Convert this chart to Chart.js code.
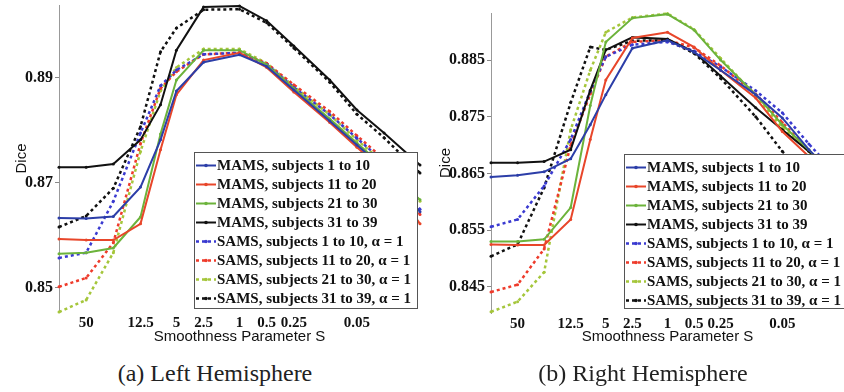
<!DOCTYPE html>
<html>
<head>
<meta charset="utf-8">
<script src="https://cdn.jsdelivr.net/npm/chart.js@4.4.1/dist/chart.umd.min.js"></script>
<style>
  html, body { margin: 0; padding: 0; background: #fff; overflow: hidden; width: 844px; height: 392px; }
  canvas { position: absolute; top: 0; }
  #left { left: 0; }
  #right { left: 422px; }
  .cap { position: absolute; top: 359px; font-family: "Liberation Serif", serif; font-size: 24px; line-height: 28px; color: #222; text-align: center; }
</style>
</head>
<body>
<canvas id="left" width="424" height="350"></canvas>
<canvas id="right" width="426" height="350"></canvas>
<div class="cap" style="left:0;width:430px">(a) Left Hemisphere</div>
<div class="cap" style="left:433px;width:420px">(b) Right Hemisphere</div>
<script>
// smoothness parameter values (x), shown on a reversed log axis
const sValues = [100, 50, 25, 12.5, 7.5, 5, 2.5, 1, 0.5, 0.25, 0.1, 0.05, 0.025, 0.01];
const xTickValues = [50, 12.5, 5, 2.5, 1, 0.5, 0.25, 0.05];

const seriesNames = [
  'MAMS, subjects 1 to 10',
  'MAMS, subjects 11 to 20',
  'MAMS, subjects 21 to 30',
  'MAMS, subjects 31 to 39',
  'SAMS, subjects 1 to 10, \u03b1 = 1',
  'SAMS, subjects 11 to 20, \u03b1 = 1',
  'SAMS, subjects 21 to 30, \u03b1 = 1',
  'SAMS, subjects 31 to 39, \u03b1 = 1'
];

// (a) left hemisphere
const leftMams1 = [0.8633, 0.8632, 0.8636, 0.8692, 0.8782, 0.8875, 0.8930, 0.8944, 0.8922, 0.8877, 0.8818, 0.8772, 0.8727, 0.8645];
const leftMams11 = [0.8593, 0.8591, 0.8591, 0.8622, 0.8763, 0.8868, 0.8934, 0.8948, 0.8920, 0.8873, 0.8815, 0.8768, 0.8722, 0.8622];
const leftMams21 = [0.8565, 0.8567, 0.8576, 0.8635, 0.8793, 0.8896, 0.8953, 0.8953, 0.8925, 0.8880, 0.8822, 0.8776, 0.8731, 0.8668];
const leftMams31 = [0.8730, 0.8730, 0.8736, 0.8782, 0.8849, 0.8953, 0.9035, 0.9037, 0.9009, 0.8961, 0.8896, 0.8839, 0.8795, 0.8734];
const leftSams1 = [0.8557, 0.8567, 0.8665, 0.8795, 0.8885, 0.8915, 0.8945, 0.8948, 0.8926, 0.8882, 0.8830, 0.8785, 0.8740, 0.8650];
const leftSams11 = [0.8502, 0.8519, 0.8586, 0.8775, 0.8880, 0.8912, 0.8945, 0.8948, 0.8928, 0.8887, 0.8836, 0.8790, 0.8745, 0.8640];
const leftSams21 = [0.8454, 0.8477, 0.8567, 0.8760, 0.8875, 0.8920, 0.8955, 0.8955, 0.8928, 0.8884, 0.8830, 0.8782, 0.8738, 0.8665];
const leftSams31 = [0.8616, 0.8637, 0.8690, 0.8807, 0.8950, 0.8995, 0.9030, 0.9031, 0.9005, 0.8957, 0.8892, 0.8831, 0.8786, 0.8719];
const leftYTicks = [0.85, 0.87, 0.89];

// (b) right hemisphere
const rightMams1 = [0.8644, 0.8647, 0.8653, 0.8676, 0.8736, 0.8789, 0.8871, 0.8885, 0.8864, 0.8832, 0.8789, 0.8748, 0.8692, 0.8630];
const rightMams11 = [0.8525, 0.8524, 0.8524, 0.8569, 0.8710, 0.8815, 0.8889, 0.8899, 0.8873, 0.8832, 0.8783, 0.8724, 0.8680, 0.8620];
const rightMams21 = [0.8530, 0.8530, 0.8534, 0.8590, 0.8770, 0.8882, 0.8924, 0.8931, 0.8903, 0.8850, 0.8789, 0.8736, 0.8692, 0.8625];
const rightMams31 = [0.8669, 0.8669, 0.8671, 0.8692, 0.8797, 0.8868, 0.8890, 0.8887, 0.8864, 0.8822, 0.8766, 0.8727, 0.8689, 0.8636];
const rightSams1 = [0.8556, 0.8569, 0.8628, 0.8710, 0.8795, 0.8856, 0.8877, 0.8882, 0.8866, 0.8838, 0.8796, 0.8757, 0.8702, 0.8635];
const rightSams11 = [0.8441, 0.8454, 0.8517, 0.8700, 0.8790, 0.8856, 0.8882, 0.8885, 0.8872, 0.8840, 0.8790, 0.8740, 0.8690, 0.8625];
const rightSams21 = [0.8406, 0.8424, 0.8476, 0.8727, 0.8832, 0.8899, 0.8925, 0.8932, 0.8904, 0.8853, 0.8787, 0.8731, 0.8689, 0.8620];
const rightSams31 = [0.8504, 0.8525, 0.8625, 0.8775, 0.8873, 0.8868, 0.8884, 0.8885, 0.8862, 0.8818, 0.8750, 0.8689, 0.8640, 0.8590];
const rightYTicks = [0.845, 0.855, 0.865, 0.875, 0.885];

const colors = ['#2c3ea8', '#e8462a', '#6cb33b', '#111111', '#3a3ad0', '#ee3b2b', '#a5c63b', '#111111'];

function makeDatasets(series) {
  return series.map((vals, i) => {
    const dashed = i >= 4;
    return {
      label: seriesNames[i],
      data: vals.map((v, j) => ({ x: sValues[j], y: v })),
      borderColor: colors[i],
      backgroundColor: colors[i],
      borderWidth: dashed ? 2.5 : 2,
      borderDash: dashed ? [3, 3] : [],
      pointRadius: 1.5,
      pointBorderWidth: 0,
      tension: 0,
      clip: false
    };
  });
}

// legend box drawn inside the plot, bottom right
const insideLegend = {
  id: 'insideLegend',
  afterDraw(chart, args, opts) {
    const ctx = chart.ctx;
    const area = chart.chartArea;
    const left = area.right - opts.right - opts.width;
    const top = area.bottom - opts.bottom - opts.height;
    ctx.save();
    ctx.fillStyle = '#fff';
    ctx.fillRect(left, top, opts.width, opts.height);
    ctx.strokeStyle = '#555';
    ctx.lineWidth = 1;
    ctx.strokeRect(left + 0.5, top + 0.5, opts.width, opts.height);
    ctx.font = 'bold 15px "Liberation Serif"';
    ctx.textBaseline = 'middle';
    chart.data.datasets.forEach((ds, i) => {
      const y = top + 13.5 + i * 19;
      ctx.strokeStyle = ds.borderColor;
      ctx.lineWidth = ds.borderWidth;
      ctx.setLineDash(ds.borderDash);
      ctx.beginPath();
      ctx.moveTo(left + 2, y);
      ctx.lineTo(left + 22, y);
      ctx.stroke();
      ctx.setLineDash([]);
      ctx.fillStyle = ds.borderColor;
      ctx.beginPath();
      ctx.arc(left + 12, y, 1.8, 0, Math.PI * 2);
      ctx.fill();
      ctx.fillStyle = '#111';
      ctx.fillText(ds.label, left + 23, y + 1);
    });
    ctx.restore();
  }
};

function makePanel(id, series, cfg) {
  return new Chart(document.getElementById(id), {
    type: 'line',
    data: { datasets: makeDatasets(series) },
    options: {
      animation: false,
      responsive: false,
      devicePixelRatio: 1,
      layout: { padding: { top: cfg.padTop, right: cfg.padRight, left: 0, bottom: 0 } },
      plugins: {
        legend: { display: false },
        tooltip: { enabled: false },
        insideLegend: cfg.legend
      },
      scales: {
        x: {
          type: 'logarithmic',
          reverse: true,
          min: 0.01,
          max: 100,
          afterBuildTicks: (scale) => { scale.ticks = xTickValues.map(v => ({ value: v })); },
          afterFit: (scale) => {
            scale.height = cfg.xHeight;
            scale.paddingLeft = 0;
            scale.paddingRight = 0;
          },
          grid: { display: false, drawTicks: false },
          border: { display: false },
          ticks: {
            autoSkip: false,
            maxRotation: 0,
            padding: 2,
            color: '#111',
            font: { family: 'Liberation Serif', weight: 'bold', size: 15 },
            callback: (v) => String(v)
          },
          title: {
            display: true,
            text: 'Smoothness Parameter S',
            color: '#111',
            padding: { top: 0, bottom: 4 },
            font: { family: 'Liberation Sans', size: 15 }
          }
        },
        y: {
          min: cfg.yMin,
          max: cfg.yMax,
          afterBuildTicks: (scale) => { scale.ticks = cfg.yTicks.map(v => ({ value: v })); },
          afterFit: (scale) => {
            scale.width = cfg.yWidth;
            scale.paddingTop = 0;
            scale.paddingBottom = 0;
          },
          grid: { drawOnChartArea: false, drawTicks: true, tickLength: 4, color: '#888' },
          border: { display: true, color: '#999', width: 1 },
          ticks: {
            padding: 2,
            color: '#111',
            font: { family: 'Liberation Serif', weight: 'bold', size: 16 },
            callback: (v) => v.toFixed(cfg.decimals)
          },
          title: {
            display: true,
            text: 'Dice',
            color: '#111',
            padding: { top: cfg.titlePad, bottom: 0 },
            font: { family: 'Liberation Sans', size: 15 }
          }
        }
      }
    },
    plugins: [insideLegend]
  });
}

makePanel('left', [leftMams1, leftMams11, leftMams21, leftMams31, leftSams1, leftSams11, leftSams21, leftSams31], {
  padTop: 5, padRight: 3, xHeight: 38, yWidth: 59, titlePad: 13,
  yMin: 0.8454, yMax: 0.9039, yTicks: leftYTicks, decimals: 2,
  legend: { width: 223, height: 156, bottom: 4, right: 3 }
});

makePanel('right', [rightMams1, rightMams11, rightMams21, rightMams31, rightSams1, rightSams11, rightSams21, rightSams31], {
  padTop: 13, padRight: 3, xHeight: 37, yWidth: 69, titlePad: 15,
  yMin: 0.8404, yMax: 0.8933, yTicks: rightYTicks, decimals: 3,
  legend: { width: 220, height: 154, bottom: 5, right: 0 }
});
</script>
</body>
</html>
